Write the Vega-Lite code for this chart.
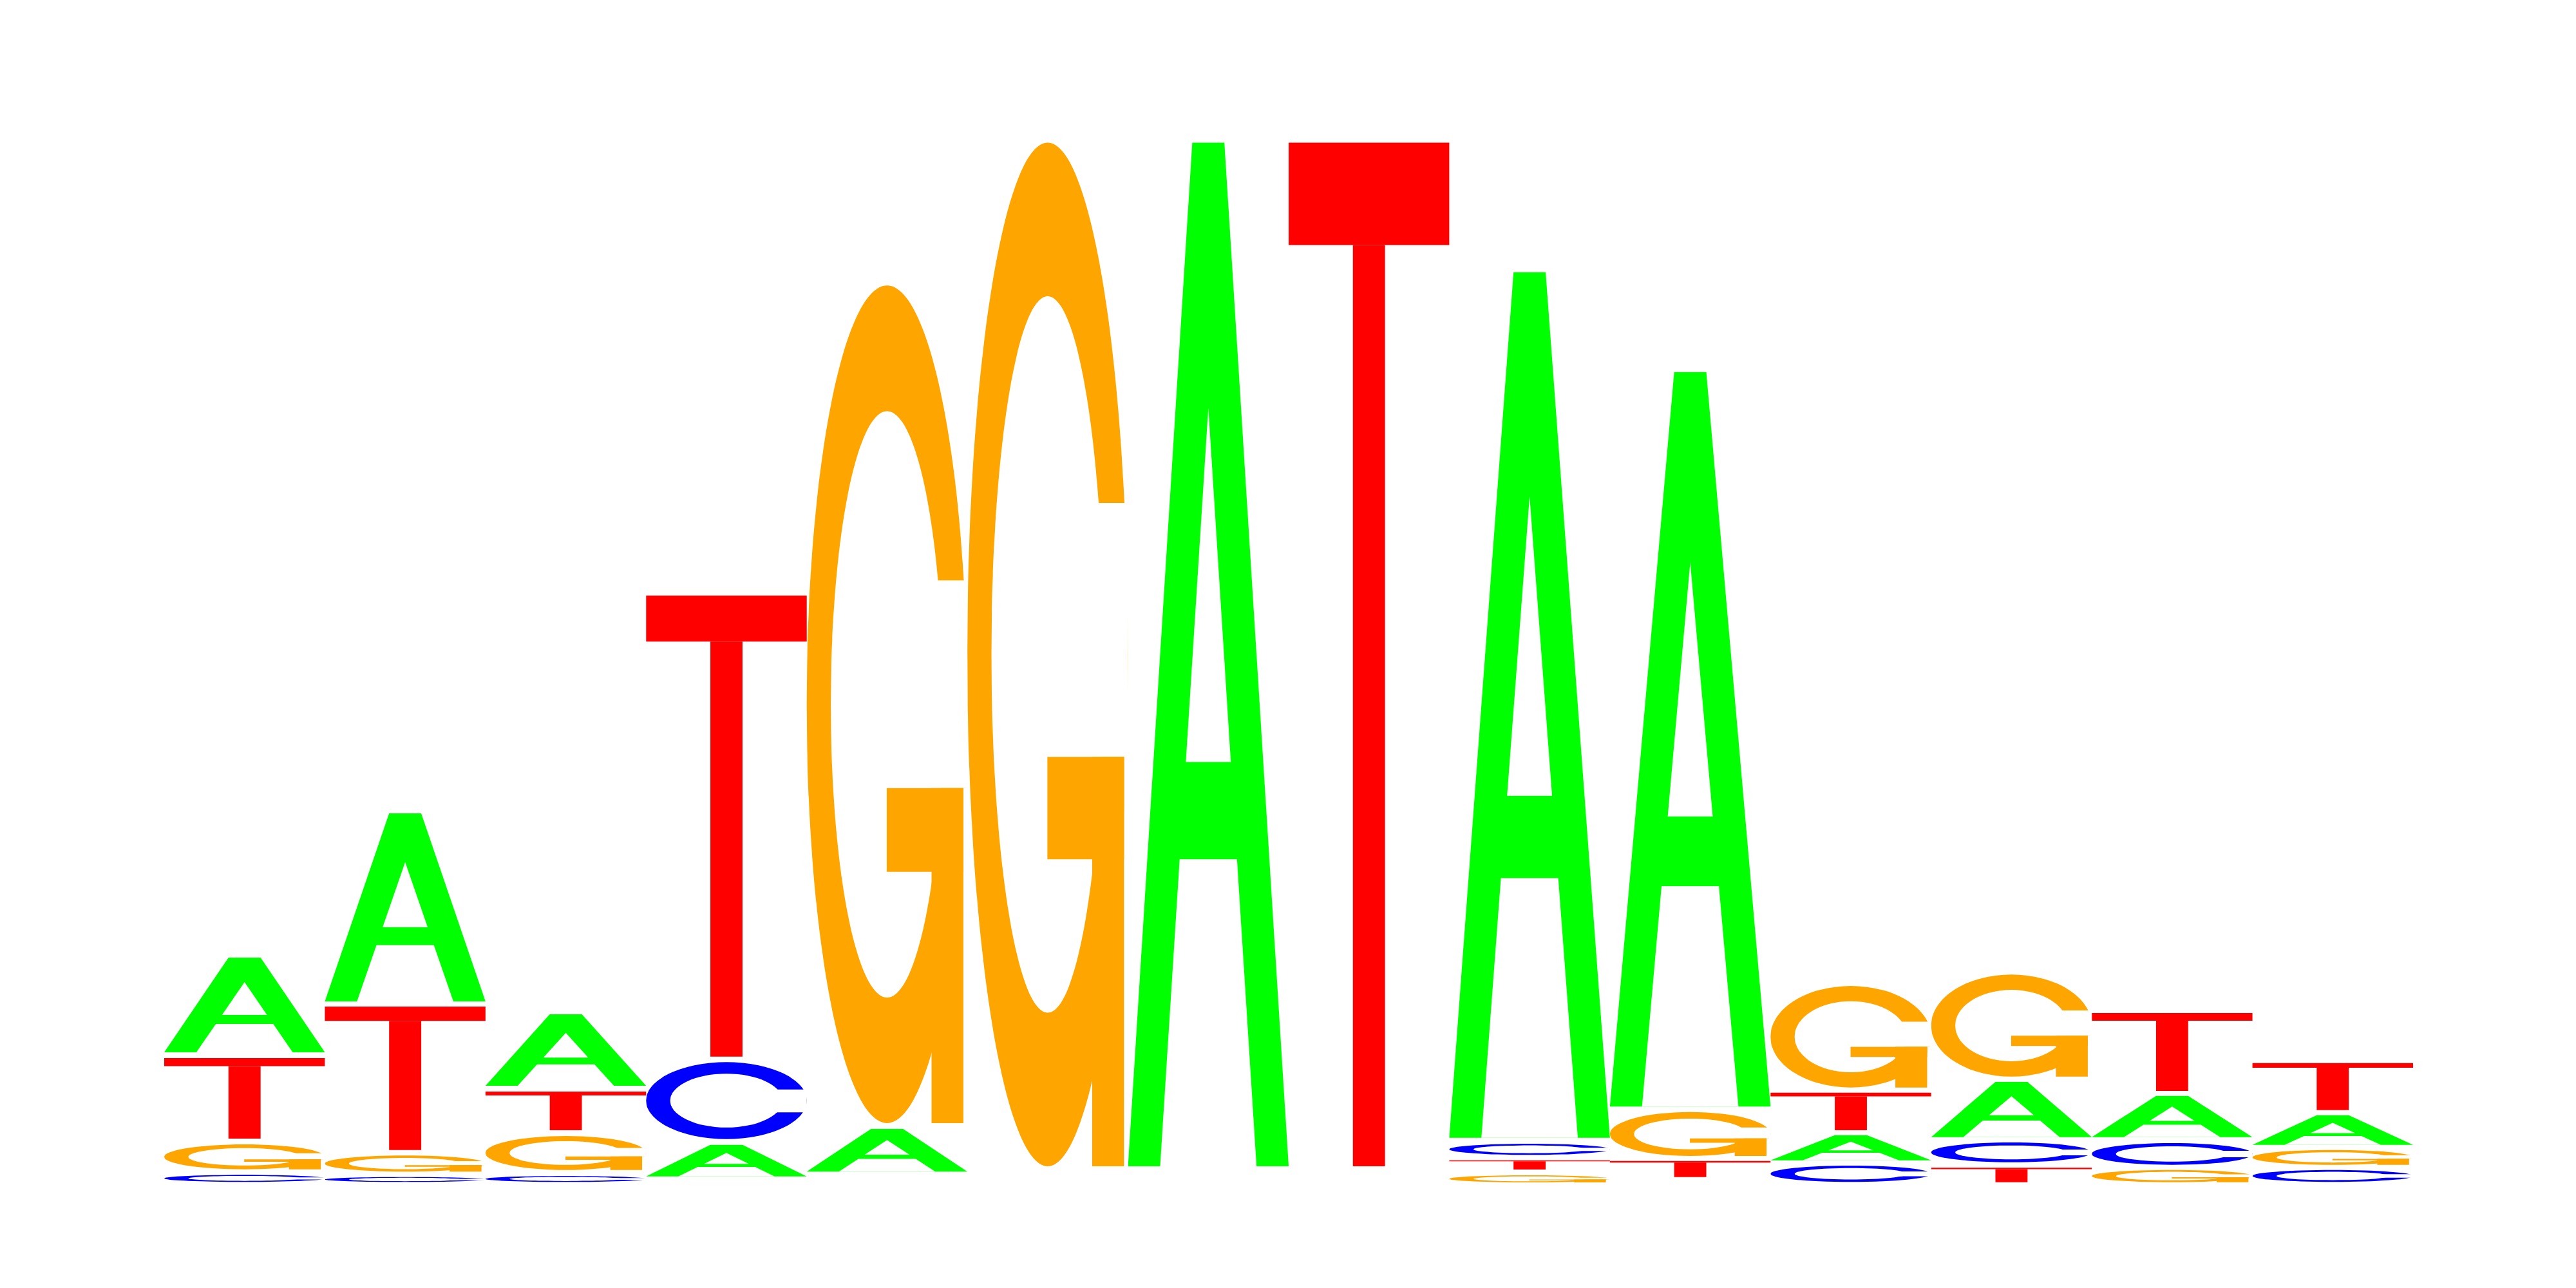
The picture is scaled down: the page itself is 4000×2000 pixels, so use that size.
{
  "$schema": "https://vega.github.io/schema/vega-lite/v6.json",
  "width": 3492,
  "height": 1620,
  "autosize": {"type": "none"},
  "padding": {"left": 255, "top": 216, "right": 253, "bottom": 164},
  "background": "white",
  "datasets": {
    "glyphs": [
      {
        "letter": "A",
        "pc": ["2a","2a","2a","2a","4n","4n","4n","4n","4h","4h","4h"],
        "u": [0,0.4,0.6,1,0.2,0.3215,0.6785,0.8,0.36,0.5,0.64],
        "lo": [0,0,0,0,0,0,0,0,0.395,0.395,0.395],
        "hi": [0,1,1,0,0,0.3,0.3,0,0.395,0.741,0.395]
      },
      {
        "letter": "T",
        "pc": ["2t","2t","2s","2s"],
        "u": [0,1,0.4,0.6],
        "lo": [0.9,0.9,0,0],
        "hi": [1,1,0.9,0.9]
      },
      {
        "letter": "G",
        "pc": ["1o","1o","1o","1o","1o","1o","1o","1o","1o","1o","1o","1o","1o","1o","1o","1o","1o","1o","1o","1o","1o",
               "3i","3i","3i","3i","3i","3i","3i","3i","3i","3i","3i","3i","3i","3i","3i","3i","3i","3i","3i","3i","3i",
               "4m","4m","4r","4r","5b","5b","5s","5s"],
        "u": [0,0.0035,0.0125,0.03,0.06,0.1,0.15,0.225,0.3,0.4,0.5,0.6,0.7,0.775,0.85,0.9,0.94,0.97,0.9875,0.9965,1,
              0.15,0.15245,0.15875,0.171,0.192,0.22,0.255,0.3075,0.36,0.43,0.5,0.57,0.64,0.6925,0.745,0.78,0.808,0.829,0.84125,0.84755,0.85,
              0.55,1,0.975,1,0.498,0.975,0.777,0.975],
        "lo": [0.5,0.441,0.3889,0.3294,0.2625,0.2,0.143,0.0824,0.0418,0.0101,0,0.0101,0.0418,0.0824,0.143,0.2,0.2625,0.3294,0.3889,0.441,0.5,
               0.5,0.4587,0.4222,0.3806,0.3338,0.29,0.2501,0.2077,0.1792,0.1571,0.15,0.1571,0.1792,0.2077,0.2501,0.29,0.3338,0.3806,0.4222,0.4587,0.5,
               0.4,0.4,0,0,0.3,0.3,0,0],
        "hi": [0.5,0.559,0.6111,0.6706,0.7375,0.8,0.857,0.9176,0.9582,0.9899,1,0.9899,0.9582,0.9176,0.857,0.8,0.7375,0.6706,0.6111,0.559,0.5,
               0.5,0.5413,0.5778,0.6194,0.6662,0.71,0.7499,0.7923,0.8208,0.8429,0.85,0.8429,0.8208,0.7923,0.7499,0.71,0.6662,0.6194,0.5778,0.5413,0.5,
               0.648,0.648,0.4,0.4,0.4,0.4,0.4,0.4]
      },
      {
        "letter": "C",
        "pc": ["1o","1o","1o","1o","1o","1o","1o","1o","1o","1o","1o","1o","1o","1o","1o","1o","1o","1o","1o","1o","1o",
               "3i","3i","3i","3i","3i","3i","3i","3i","3i","3i","3i","3i","3i","3i","3i","3i","3i","3i","3i","3i","3i",
               "4m","4m"],
        "u": [0,0.0035,0.0125,0.03,0.06,0.1,0.15,0.225,0.3,0.4,0.5,0.6,0.7,0.775,0.85,0.9,0.94,0.97,0.9875,0.9965,1,
              0.15,0.15245,0.15875,0.171,0.192,0.22,0.255,0.3075,0.36,0.43,0.5,0.57,0.64,0.6925,0.745,0.78,0.808,0.829,0.84125,0.84755,0.85,
              0.6,1],
        "lo": [0.5,0.441,0.3889,0.3294,0.2625,0.2,0.143,0.0824,0.0418,0.0101,0,0.0101,0.0418,0.0824,0.143,0.2,0.2625,0.3294,0.3889,0.441,0.5,
               0.5,0.4587,0.4222,0.3806,0.3338,0.29,0.2501,0.2077,0.1792,0.1571,0.15,0.1571,0.1792,0.2077,0.2501,0.29,0.3338,0.3806,0.4222,0.4587,0.5,
               0.347,0.347],
        "hi": [0.5,0.559,0.6111,0.6706,0.7375,0.8,0.857,0.9176,0.9582,0.9899,1,0.9899,0.9582,0.9176,0.857,0.8,0.7375,0.6706,0.6111,0.559,0.5,
               0.5,0.5413,0.5778,0.6194,0.6662,0.71,0.7499,0.7923,0.8208,0.8429,0.85,0.8429,0.8208,0.7923,0.7499,0.71,0.6662,0.6194,0.5778,0.5413,0.5,
               0.645,0.645]
      }
    ]
  },
  "data": {
    "values": [
      {"pos": 1, "letter": "C", "y0": 0.0009, "y1": 0.0144},
      {"pos": 1, "letter": "G", "y0": 0.0251, "y1": 0.0728},
      {"pos": 1, "letter": "T", "y0": 0.084, "y1": 0.2383},
      {"pos": 1, "letter": "A", "y0": 0.2494, "y1": 0.4309},
      {"pos": 2, "letter": "C", "y0": 0.0009, "y1": 0.0102},
      {"pos": 2, "letter": "G", "y0": 0.0206, "y1": 0.0515},
      {"pos": 2, "letter": "T", "y0": 0.0621, "y1": 0.337},
      {"pos": 2, "letter": "A", "y0": 0.3469, "y1": 0.7074},
      {"pos": 3, "letter": "C", "y0": 0.0009, "y1": 0.0123},
      {"pos": 3, "letter": "G", "y0": 0.0238, "y1": 0.0889},
      {"pos": 3, "letter": "T", "y0": 0.1, "y1": 0.1741},
      {"pos": 3, "letter": "A", "y0": 0.1852, "y1": 0.3222},
      {"pos": 4, "letter": "A", "y0": 0.0115, "y1": 0.072},
      {"pos": 4, "letter": "C", "y0": 0.0831, "y1": 0.2305},
      {"pos": 4, "letter": "T", "y0": 0.2411, "y1": 1.1251},
      {"pos": 5, "letter": "A", "y0": 0.0206, "y1": 0.1025},
      {"pos": 5, "letter": "G", "y0": 0.1136, "y1": 1.7193},
      {"pos": 6, "letter": "G", "y0": 0.0309, "y1": 1.9932},
      {"pos": 7, "letter": "A", "y0": 0.0309, "y1": 1.9932},
      {"pos": 8, "letter": "T", "y0": 0.0309, "y1": 1.9932},
      {"pos": 9, "letter": "G", "y0": 0.0, "y1": 0.0136},
      {"pos": 9, "letter": "T", "y0": 0.0247, "y1": 0.0423},
      {"pos": 9, "letter": "C", "y0": 0.0527, "y1": 0.0741},
      {"pos": 9, "letter": "A", "y0": 0.0856, "y1": 1.7448},
      {"pos": 10, "letter": "T", "y0": 0.0102, "y1": 0.0411},
      {"pos": 10, "letter": "G", "y0": 0.0506, "y1": 0.1349},
      {"pos": 10, "letter": "A", "y0": 0.1453, "y1": 1.5535},
      {"pos": 11, "letter": "C", "y0": 0.0009, "y1": 0.0321},
      {"pos": 11, "letter": "A", "y0": 0.0423, "y1": 0.0905},
      {"pos": 11, "letter": "T", "y0": 0.1, "y1": 0.172},
      {"pos": 11, "letter": "G", "y0": 0.1819, "y1": 0.3765},
      {"pos": 12, "letter": "T", "y0": 0.0004, "y1": 0.028},
      {"pos": 12, "letter": "C", "y0": 0.0386, "y1": 0.0765},
      {"pos": 12, "letter": "A", "y0": 0.0868, "y1": 0.1926},
      {"pos": 12, "letter": "G", "y0": 0.2028, "y1": 0.3984},
      {"pos": 13, "letter": "G", "y0": 0.0004, "y1": 0.0238},
      {"pos": 13, "letter": "C", "y0": 0.0337, "y1": 0.0753},
      {"pos": 13, "letter": "A", "y0": 0.0868, "y1": 0.1658},
      {"pos": 13, "letter": "T", "y0": 0.1753, "y1": 0.3247},
      {"pos": 14, "letter": "C", "y0": 0.0009, "y1": 0.0238},
      {"pos": 14, "letter": "G", "y0": 0.0337, "y1": 0.0621},
      {"pos": 14, "letter": "A", "y0": 0.072, "y1": 0.1288},
      {"pos": 14, "letter": "T", "y0": 0.1386, "y1": 0.2288}
    ]
  },
  "transform": [
    {"lookup": "letter", "from": {"data": {"name": "glyphs"}, "key": "letter", "fields": ["pc", "u", "lo", "hi"]}},
    {"flatten": ["pc", "u", "lo", "hi"]},
    {"calculate": "datum.pos - 0.5 + datum.u", "as": "x"},
    {"calculate": "datum.y0 + datum.lo * (datum.y1 - datum.y0)", "as": "ylo"},
    {"calculate": "datum.y0 + datum.hi * (datum.y1 - datum.y0)", "as": "yhi"}
  ],
  "encoding": {
    "x": {"field": "x", "type": "quantitative", "scale": {"domain": [0.5, 14.5], "nice": false, "zero": false}, "axis": null},
    "y": {"field": "ylo", "type": "quantitative", "stack": null, "scale": {"domain": [0, 2], "nice": false}, "axis": null},
    "y2": {"field": "yhi"},
    "detail": [{"field": "pos"}, {"field": "letter"}, {"field": "pc"}]
  },
  "layer": [
    {
      "transform": [{"filter": {"field": "pc", "oneOf": ["1o"]}}],
      "mark": {"type": "area", "interpolate": "monotone"},
      "encoding": {
        "color": {"field": "letter", "type": "nominal", "legend": null,
                  "scale": {"domain": ["A", "C", "G", "T"], "range": ["#00ff00", "#0000ff", "#ffa500", "#ff0000"]}}
      }
    },
    {
      "transform": [{"filter": {"field": "pc", "oneOf": ["2a", "2t", "2s"]}}],
      "mark": {"type": "area"},
      "encoding": {"color": {"field": "letter", "type": "nominal", "legend": null}}
    },
    {
      "transform": [{"filter": {"field": "pc", "oneOf": ["3i"]}}],
      "mark": {"type": "area", "interpolate": "monotone", "color": "white"}
    },
    {
      "transform": [{"filter": {"field": "pc", "oneOf": ["4n", "4h", "4m", "4r"]}}],
      "mark": {"type": "area", "color": "white"}
    },
    {
      "transform": [{"filter": {"field": "pc", "oneOf": ["5b", "5s"]}}],
      "mark": {"type": "area"},
      "encoding": {"color": {"field": "letter", "type": "nominal", "legend": null}}
    }
  ],
  "config": {"view": {"stroke": null}}
}
